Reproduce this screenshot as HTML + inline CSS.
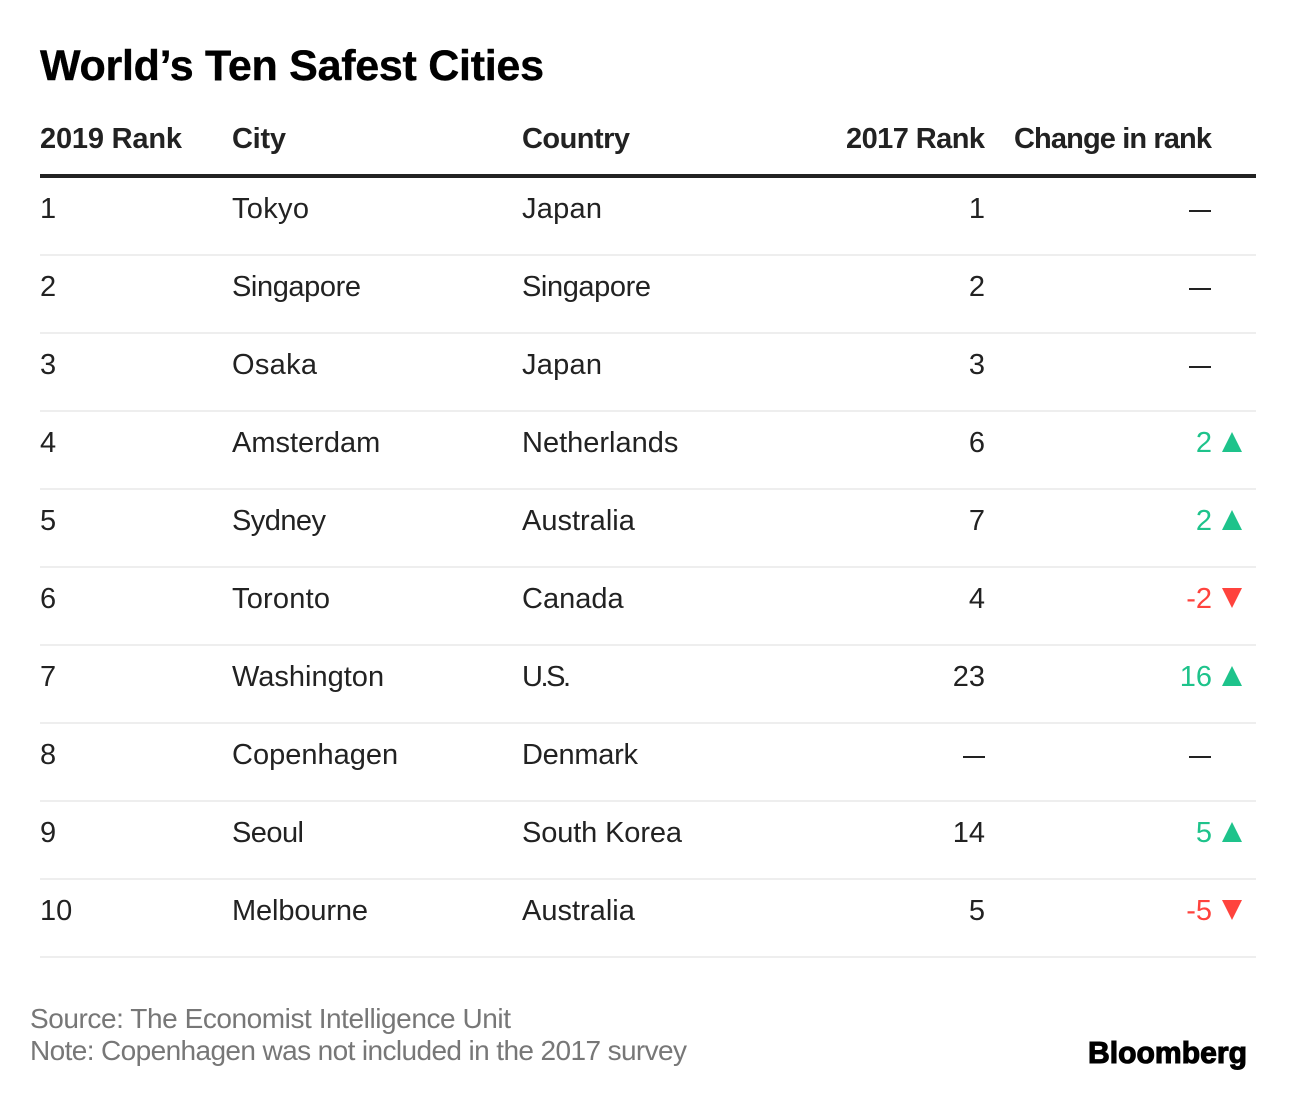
<!DOCTYPE html>
<html lang="en">
<head>
<meta charset="utf-8">
<title>World's Ten Safest Cities</title>
<style>
html,body{margin:0;padding:0;background:#fff;width:1296px;height:1108px;overflow:hidden}
svg{display:block}
text{font-family:"Liberation Sans",Arial,sans-serif}
.hd{font-weight:700;font-size:29px;fill:#222}
.cell{font-size:29px;fill:#222}
.foot{font-size:28px;fill:#777}
</style>
</head>
<body>
<svg id="chart" xmlns="http://www.w3.org/2000/svg" width="1296" height="1108" viewBox="0 0 1296 1108">
  <rect width="1296" height="1108" fill="#fff"/>
  <text x="40" y="80" font-size="43" font-weight="700" fill="#000" stroke="#000" stroke-width="0.4" textLength="504">World’s Ten Safest Cities</text>
  <text class="hd" x="40" y="148" textLength="142">2019 Rank</text>
  <text class="hd" x="232" y="148" textLength="54">City</text>
  <text class="hd" x="522" y="148" textLength="108">Country</text>
  <text class="hd" x="846" y="148" textLength="139">2017 Rank</text>
  <text class="hd" x="1014" y="148" textLength="198">Change in rank</text>
  <rect x="40" y="174" width="1216" height="4" fill="#222"/>
  <g id="rows"></g>
  <text class="foot" x="30" y="1028" textLength="481">Source: The Economist Intelligence Unit</text>
  <text class="foot" x="30" y="1060" textLength="657">Note: Copenhagen was not included in the 2017 survey</text>
  <text x="1088" y="1063" font-size="31" font-weight="700" fill="#000" stroke="#000" stroke-width="1.1" textLength="159" lengthAdjust="spacingAndGlyphs">Bloomberg</text>
</svg>
<script>
const ranks2019 = [1, 2, 3, 4, 5, 6, 7, 8, 9, 10];
const cities = ["Tokyo", "Singapore", "Osaka", "Amsterdam", "Sydney", "Toronto", "Washington", "Copenhagen", "Seoul", "Melbourne"];
const countries = ["Japan", "Singapore", "Japan", "Netherlands", "Australia", "Canada", "U.S.", "Denmark", "South Korea", "Australia"];
const ranks2017 = [1, 2, 3, 6, 7, 4, 23, null, 14, 5];
const changes = [0, 0, 0, 2, 2, -2, 16, null, 5, -5];

const NS = "http://www.w3.org/2000/svg";
const UP = "#1ec38b";
const DOWN = "#ff433d";
const rowsGroup = document.getElementById("rows");
const rowY = i => 218 + 78 * i;
/* typographic fitting for the label font substitution */
const fit = {"Tokyo":77,"Singapore":129,"Osaka":85,"Sydney":94,"Toronto":98,"Seoul":72,"Japan":80,"U.S.":49,"Denmark":116,"South Korea":160,"Melbourne":136};

function addText(parent, str, x, y, cls, anchor) {
  const t = document.createElementNS(NS, "text");
  t.setAttribute("x", x);
  t.setAttribute("y", y);
  t.setAttribute("class", cls);
  if (anchor) t.setAttribute("text-anchor", anchor);
  if (fit[str]) t.setAttribute("textLength", fit[str]);
  t.textContent = str;
  parent.appendChild(t);
  return t;
}
function addDash(parent, right, y) {
  const d = document.createElementNS(NS, "rect");
  d.setAttribute("x", right - 22);
  d.setAttribute("y", y - 8);
  d.setAttribute("width", 22);
  d.setAttribute("height", 2);
  d.setAttribute("fill", "#222");
  parent.appendChild(d);
  return d;
}

ranks2019.forEach((rank, i) => {
  const y = rowY(i);
  const g = document.createElementNS(NS, "g");
  
  
  rowsGroup.appendChild(g);

  const a = addText(g, rank, 40, y, "cell");
  
  

  const b = addText(g, cities[i], 232, y, "cell");
  
  

  const c = addText(g, countries[i], 522, y, "cell");
  
  

  if (ranks2017[i] === null) {
    const d = addDash(g, 985, y);
    
    
  } else {
    const d = addText(g, ranks2017[i], 985, y, "cell", "end");
    
    
  }

  const ch = changes[i];
  if (ch === null || ch === 0) {
    const e = addDash(g, 1211, y);
    
    
  } else {
    const color = ch > 0 ? UP : DOWN;
    const e = addText(g, ch, 1212, y, "cell", "end");
    
    
    e.style.fill = color;
    const tri = document.createElementNS(NS, "polygon");
    
    
    const pts = ch > 0
      ? [[1222, y], [1242, y], [1232, y - 20]]
      : [[1222, y - 20], [1242, y - 20], [1232, y]];
    tri.setAttribute("points", pts.map(p => p.join(",")).join(" "));
    tri.setAttribute("fill", color);
    g.appendChild(tri);
  }

  const sep = document.createElementNS(NS, "rect");
  
  
  sep.setAttribute("x", 40);
  sep.setAttribute("y", y + 36);
  sep.setAttribute("width", 1216);
  sep.setAttribute("height", 2);
  sep.setAttribute("fill", "#eeeeee");
  g.appendChild(sep);
});
</script>
</body>
</html>
